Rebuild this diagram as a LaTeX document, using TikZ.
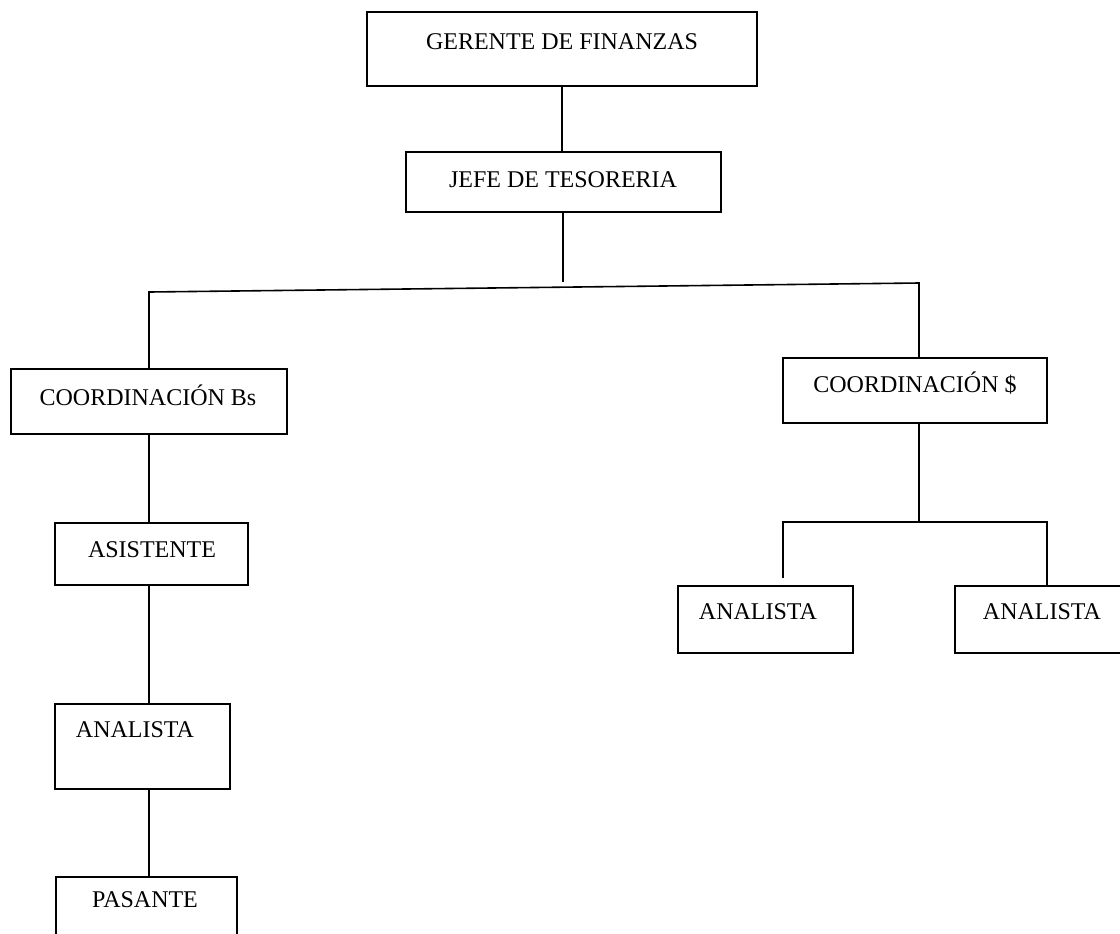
\documentclass[tikz,border=0pt]{standalone}
\usepackage{fontspec}
\setmainfont{Liberation Serif}
\usepackage{tikz}
\usetikzlibrary{positioning}
\tikzset{caja/.style={draw=black,line width=0.8pt,rectangle,inner sep=0}}
\tikzset{rotulo/.style={inner sep=0,font=\fontsize{12}{14}\selectfont}}

\begin{document}
\begin{tikzpicture}[x=0.5pt,y=-0.5pt,line width=0.8pt]
		\useasboundingbox (0,0) rectangle (1120,933);
		\clip (0,0) rectangle (1120,933);
		
		\node[caja, minimum width=195pt, minimum height=37pt] (gerente) at (562,49) {};
		\node[rotulo] (tgerente) at (562,42) {GERENTE DE FINANZAS};
		\node[caja, minimum width=157.5pt, minimum height=30pt] (jefe) at (563.5,182) {};
		\node[rotulo] (tjefe) at (563,180) {JEFE DE TESORERIA};
		
		\node[caja, minimum width=138pt, minimum height=32.5pt] (coorbs) at (149,401.5) {};
		\node[rotulo] (tcoorbs) at (148,395) {COORDINACIÓN Bs};
		\node[caja, minimum width=132pt, minimum height=32.5pt] (coordol) at (915,390.5) {};
		\node[rotulo] (tcoordol) at (915,383) {COORDINACIÓN \$};
		
		\node[caja, minimum width=96.5pt, minimum height=31pt] (asistente) at (151.5,554) {};
		\node[rotulo] (tasistente) at (152,550) {ASISTENTE};
		\node[caja, minimum width=87.5pt, minimum height=42.5pt] (analista) at (142.5,746.5) {};
		\node[rotulo] (tanalista) at (135,730) {ANALISTA};
		\node[caja, minimum width=90.5pt, minimum height=41.5pt] (pasante) at (146.5,918.5) {};
		\node[rotulo] (tpasante) at (145,900) {PASANTE};
		
		\node[caja, minimum width=87.5pt, minimum height=33.5pt] (analistai) at (765.5,619.5) {};
		\node[rotulo] (tanalistai) at (758,612) {ANALISTA};
		\node[caja, minimum width=92.5pt, minimum height=33.5pt] (analistad) at (1047.5,619.5) {};
		\node[rotulo] (tanalistad) at (1042,612) {ANALISTA};
		
		\coordinate (tope) at (563,282);
		\coordinate (izq) at (149,292);
		\coordinate (der) at (919,283);
		\coordinate (rama) at (919,522);
		\coordinate (ramai) at (783,522);
		\coordinate (ramad) at (1047,522);
		\coordinate (cortoi) at (783,578);
		
		\draw (gerente.south) -- (gerente.south |- jefe.north);
		\draw (jefe.south -| tope) -- (tope);
		\draw (coorbs.north) -- (izq) -- (der) -- (der |- coordol.north);
		\draw (coorbs.south) -- (coorbs.south |- asistente.north);
		\draw (asistente.south -| izq) -- (izq |- analista.north);
		\draw (analista.south -| izq) -- (izq |- pasante.north);
		\draw (coordol.south -| rama) -- (rama);
		\draw (cortoi) -- (ramai) -- (ramad) -- (ramad |- analistad.north);
	\end{tikzpicture}
\end{document}
